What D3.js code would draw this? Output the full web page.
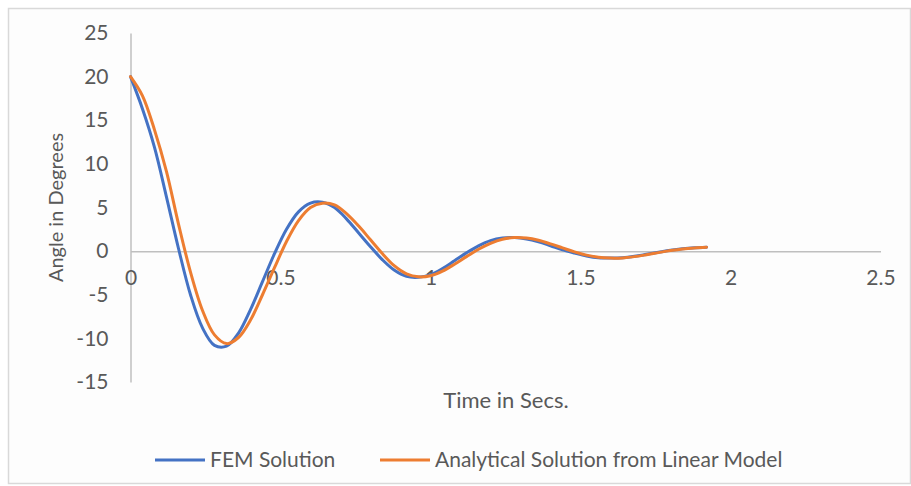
<!DOCTYPE html>
<html>
<head>
<meta charset="utf-8">
<script src="https://cdn.jsdelivr.net/npm/d3@7"></script>
<style>
  html, body { margin: 0; padding: 0; background: #ffffff; }
  svg { display: block; }
  text { font-family: "Lato", "Open Sans", sans-serif; fill: #595959; }
</style>
</head>
<body>
<svg id="chart" width="911" height="486"></svg>
<script>
// Sample times (s)
const time = [0.00, 0.04, 0.08, 0.12, 0.16, 0.20, 0.24, 0.28, 0.32, 0.36, 0.40, 0.44, 0.48,
              0.52, 0.56, 0.60, 0.64, 0.68, 0.72, 0.76, 0.80, 0.84, 0.88, 0.92, 0.96, 1.00,
              1.04, 1.08, 1.12, 1.16, 1.20, 1.24, 1.28, 1.32, 1.36, 1.40, 1.44, 1.48, 1.52,
              1.56, 1.60, 1.64, 1.68, 1.72, 1.76, 1.80, 1.84, 1.88, 1.92];

// FEM solution, angle in degrees
const femSolution = [20.0, 16.3, 11.9, 6.2, 0.3, -5.0, -8.8, -10.8, -10.9, -9.4, -6.7, -3.5, -0.3,
                     2.5, 4.5, 5.5, 5.6, 5.0, 3.7, 2.1, 0.5, -1.0, -2.2, -2.9, -3.0, -2.7,
                     -2.0, -1.1, -0.2, 0.6, 1.2, 1.5, 1.55, 1.4, 1.07, 0.62, 0.15, -0.22, -0.55,
                     -0.76, -0.80, -0.76, -0.60, -0.37, -0.13, 0.10, 0.27, 0.38, 0.44];

// Analytical solution from the linear model, angle in degrees
const analyticalSolution = [20.0, 17.8, 13.9, 9.1, 3.1, -2.4, -6.8, -9.6, -10.6, -9.9, -7.9, -5.0, -1.9,
                            1.1, 3.5, 5.0, 5.5, 5.3, 4.3, 2.9, 1.3, -0.3, -1.7, -2.6, -2.95, -2.83,
                            -2.3, -1.5, -0.63, 0.21, 0.9, 1.37, 1.56, 1.5, 1.24, 0.83, 0.37, -0.09, -0.46,
                            -0.71, -0.80, -0.78, -0.63, -0.41, -0.17, 0.06, 0.25, 0.37, 0.44];

const seriesNames = ["FEM Solution", "Analytical Solution from Linear Model"];
const seriesColors = ["#4472C4", "#ED7D31"];
const xTicks = [0, 0.5, 1, 1.5, 2, 2.5];
const yTicks = [-15, -10, -5, 0, 5, 10, 15, 20, 25];

const svg = d3.select("#chart");

// chart area frame
svg.append("rect")
  .attr("x", 8.5).attr("y", 8.5)
  .attr("width", 902).attr("height", 475)
  .attr("fill", "#fdfdfd")
  .attr("stroke", "#d9d9d9")
  .attr("stroke-width", 1.5);

const x = d3.scaleLinear().domain([0, 2.5]).range([130.5, 880.5]);
const y = d3.scaleLinear().domain([-15, 25]).range([382, 33]);

const axisColor = "#bfbfbf";
const tickFont = "21px";

// y axis
const gy = svg.append("g")
  .attr("transform", `translate(${x(0)},0)`)
  .call(d3.axisLeft(y).tickValues(yTicks).tickSize(0).tickPadding(22).tickFormat(d => String(d)));
gy.select(".domain").attr("stroke", axisColor).attr("stroke-width", 1.5);
gy.selectAll("text").style("font-size", tickFont).attr("fill", "#595959");

// x axis through zero
const gx = svg.append("g")
  .attr("transform", `translate(0,${y(0)})`)
  .call(d3.axisBottom(x).tickValues(xTicks).tickSize(0).tickPadding(19).tickFormat(d => String(d)));
gx.select(".domain").attr("stroke", axisColor).attr("stroke-width", 1.5);
gx.selectAll("text").style("font-size", tickFont).attr("fill", "#595959");

// series lines
const series = [femSolution, analyticalSolution];
const line = d3.line()
  .x((d, i) => x(time[i]))
  .y(d => y(d))
  .curve(d3.curveCatmullRom.alpha(0.5));

series.forEach((vals, k) => {
  svg.append("path")
    .datum(vals)
    .attr("fill", "none")
    .attr("stroke", seriesColors[k])
    .attr("stroke-width", 3)
    .attr("stroke-linejoin", "round")
    .attr("stroke-linecap", "round")
    .attr("d", line);
});

// axis titles
svg.append("text")
  .attr("x", 506).attr("y", 408)
  .attr("text-anchor", "middle")
  .style("font-size", "22px")
  .text("Time in Secs.");

svg.append("text")
  .attr("transform", `translate(63,${(y(25) + y(-15)) / 2}) rotate(-90)`)
  .attr("text-anchor", "middle")
  .style("font-size", "20px")
  .text("Angle in Degrees");

// legend
const legendItems = [
  { name: seriesNames[0], color: seriesColors[0], x0: 155, x1: 205, tx: 210 },
  { name: seriesNames[1], color: seriesColors[1], x0: 380, x1: 430, tx: 435 }
];
const legendY = 460;
legendItems.forEach(it => {
  svg.append("line")
    .attr("x1", it.x0).attr("x2", it.x1)
    .attr("y1", legendY).attr("y2", legendY)
    .attr("stroke", it.color).attr("stroke-width", 3);
  svg.append("text")
    .attr("x", it.tx).attr("y", legendY)
    .attr("dy", "0.35em")
    .style("font-size", "21px")
    .text(it.name);
});
</script>
</body>
</html>
